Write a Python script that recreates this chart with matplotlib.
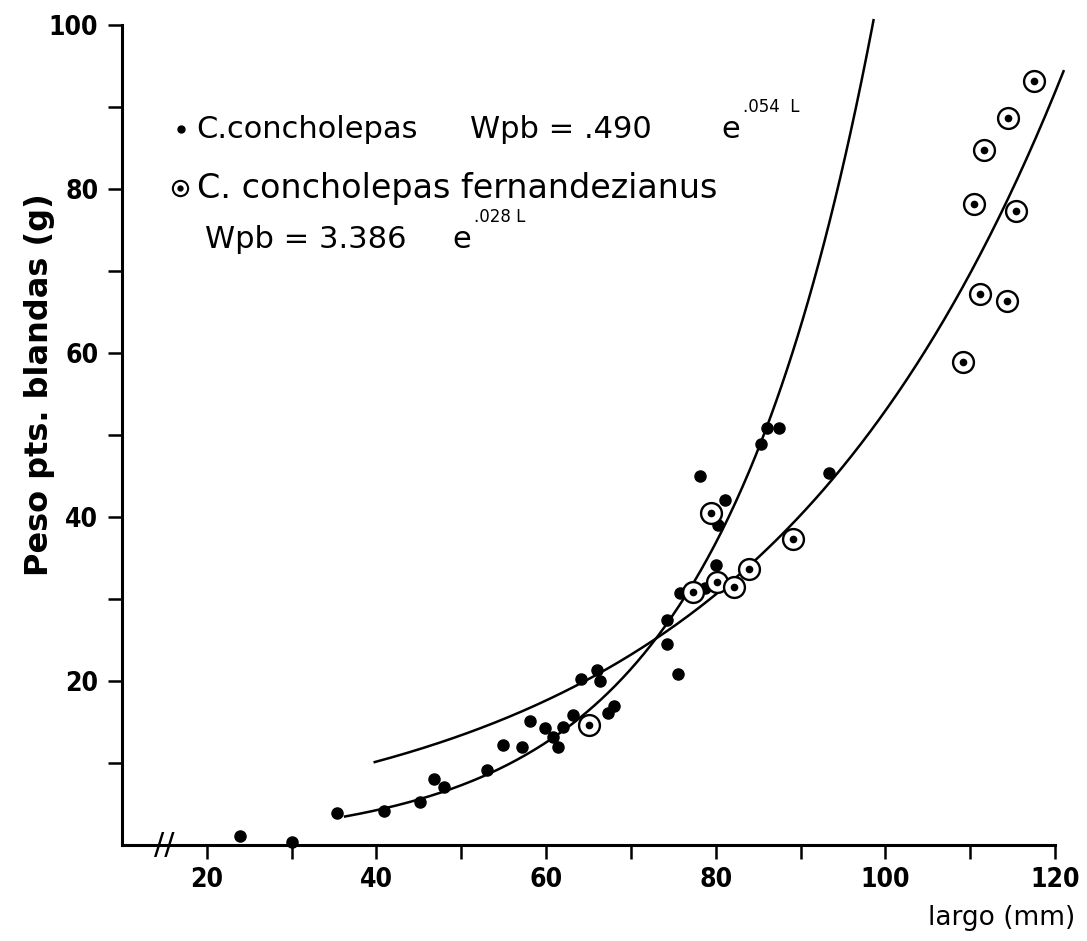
import numpy as np
import matplotlib
matplotlib.use("Agg")
import matplotlib.pyplot as plt
from matplotlib.ticker import FixedLocator

# C. concholepas (solid dots)
cc_largo = [23.9, 30.1, 35.4, 40.9, 45.1, 46.8, 48.0, 53.0, 54.9, 57.2, 58.1, 59.9,
            60.8, 61.4, 62.0, 63.2, 64.1, 66.0, 66.3, 67.3, 68.0, 74.2, 74.2, 75.6,
            75.8, 78.7, 80.0, 80.3, 81.1, 78.1, 85.3, 86.0, 87.5, 93.3]
cc_peso = [1.1, 0.4, 3.9, 4.1, 5.2, 8.1, 7.1, 9.2, 12.2, 12.0, 15.1, 14.3,
           13.2, 12.0, 14.4, 15.9, 20.2, 21.3, 20.0, 16.1, 17.0, 24.5, 27.5, 20.9,
           30.7, 31.4, 34.1, 39.0, 42.1, 45.0, 48.9, 50.9, 50.8, 45.4]

# C. concholepas fernandezianus (open circles)
cf_largo = [65.0, 77.3, 79.5, 80.1, 82.1, 83.9, 89.1, 109.2, 110.4, 111.2, 111.6,
            114.3, 114.4, 115.4, 117.5]
cf_peso = [14.6, 30.8, 40.5, 32.1, 31.5, 33.7, 37.3, 58.9, 78.2, 67.2, 84.8,
           66.3, 88.7, 77.3, 93.2]

# fitted curves  Wpb = a * exp(b * L)  (as drawn)
cc_a, cc_b = 0.490, 0.054
cf_a, cf_b = 3.386, 0.0275
cc_range = (36.3, 98.6)
cf_range = (39.8, 121.0)

x_major = [20, 40, 60, 80, 100, 120]
x_minor = [30, 50, 70, 90, 110]
y_major = [20, 40, 60, 80, 100]
y_minor = [10, 30, 50, 70, 90]

fig = plt.figure(figsize=(10.87, 9.41), dpi=100)
ax = fig.add_axes([0.1122, 0.102, 0.8584, 0.8714])

L1 = np.linspace(*cc_range, 300)
L2 = np.linspace(*cf_range, 300)
ax.plot(L1, cc_a * np.exp(cc_b * L1), color='black', lw=1.8, clip_on=False)
ax.plot(L2, cf_a * np.exp(cf_b * L2), color='black', lw=1.8, clip_on=False)

ax.plot(cc_largo, cc_peso, 'o', color='black', ms=8, clip_on=False, zorder=3)
ax.plot(cf_largo, cf_peso, 'o', mfc='white', mec='black', mew=1.7, ms=15,
        clip_on=False, zorder=4)
ax.plot(cf_largo, cf_peso, 'o', color='black', ms=4.5, clip_on=False, zorder=5)

ax.set_xlim(10, 120)
ax.set_ylim(0, 100)
ax.spines['top'].set_visible(False)
ax.spines['right'].set_visible(False)
ax.spines['left'].set_linewidth(2.2)
ax.spines['bottom'].set_linewidth(2.2)

ax.set_xticks(x_major)
ax.set_yticks(y_major)
ax.xaxis.set_minor_locator(FixedLocator(x_minor))
ax.yaxis.set_minor_locator(FixedLocator(y_minor))
ax.tick_params(which='both', length=10, width=1.8, direction='out')
ax.tick_params(axis='x', which='both', pad=6)
ax.tick_params(axis='y', which='both', pad=7)
for lab in ax.get_xticklabels() + ax.get_yticklabels():
    lab.set_fontsize(19)
    lab.set_fontweight('bold')
    lab.set_fontstretch('condensed')

ax.set_ylabel('Peso pts. blandas (g)', fontsize=23, fontweight='bold')
ax.yaxis.set_label_coords(-0.072, 0.561)
ax.text(0.943, -0.089, 'largo (mm)', transform=ax.transAxes, fontsize=19,
        ha='center', va='center', clip_on=False)

# axis break
ax.text(15, 0, '//', fontsize=22, ha='center', va='center', clip_on=False)

# legend text
ax.plot([17.0], [87.3], 'o', color='black', ms=5, clip_on=False)
ax.text(18.8, 87.3, 'C.concholepas', fontsize=22, va='center')
ax.text(51.0, 87.3, 'Wpb = .490', fontsize=22, va='center')
ax.text(80.7, 87.3, 'e', fontsize=22, va='center')
ax.text(83.2, 90.0, '.054  L', fontsize=12, va='center')
ax.plot([16.9], [80.1], 'o', mfc='white', mec='black', mew=1.5, ms=11, clip_on=False)
ax.plot([16.9], [80.1], 'o', color='black', ms=3.5, clip_on=False)
ax.text(18.8, 80.1, 'C. concholepas fernandezianus', fontsize=24, va='center')
ax.text(19.8, 73.8, 'Wpb = 3.386', fontsize=22, va='center')
ax.text(49.0, 73.8, 'e', fontsize=22, va='center')
ax.text(51.5, 76.6, '.028 L', fontsize=12, va='center')

fig.savefig('out.png', dpi=100)
